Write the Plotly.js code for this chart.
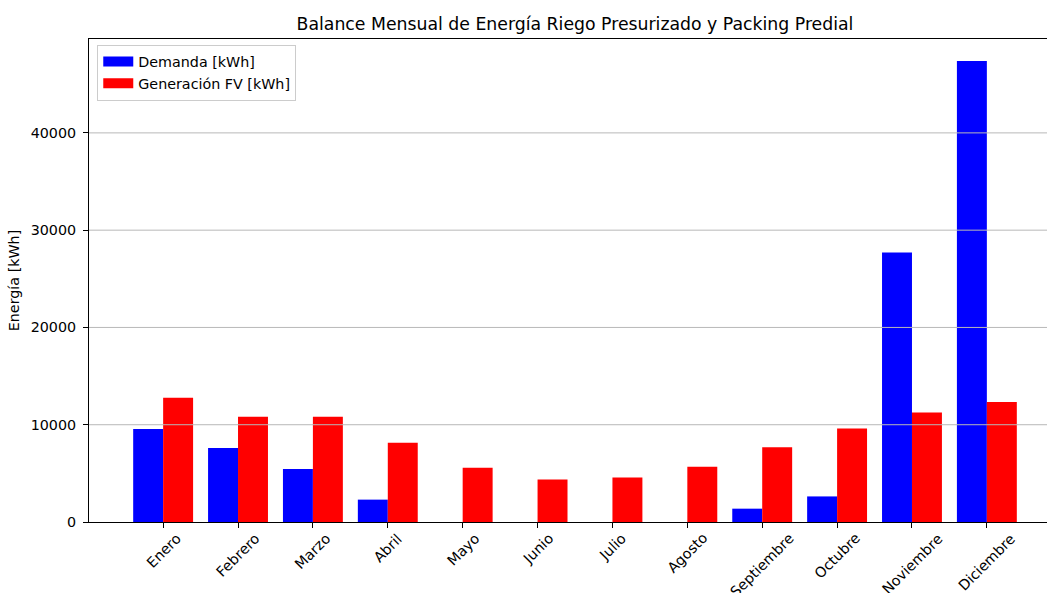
<!DOCTYPE html>
<html>
<head>
<meta charset="utf-8">
<script src="https://cdn.plot.ly/plotly-3.0.1.min.js"></script>
<style>
html, body { margin: 0; padding: 0; overflow: hidden; background: #fff; }
#chart { width: 1080px; height: 593px; }
</style>
</head>
<body>
<div id="chart"></div>
<script>
const meses = ["Enero", "Febrero", "Marzo", "Abril", "Mayo", "Junio", "Julio", "Agosto", "Septiembre", "Octubre", "Noviembre", "Diciembre"];
const demanda = [9550, 7600, 5450, 2300, 0, 0, 0, 0, 1370, 2630, 27700, 47400];
const generacion = [12780, 10820, 10820, 8140, 5570, 4360, 4570, 5670, 7690, 9620, 11260, 12330];
const yTicks = [0, 10000, 20000, 30000, 40000];
const serieNombres = ["Demanda [kWh]", "Generación FV [kWh]"];
const colores = ["#0000ff", "#ff0000"];

const FONT = "DejaVu Sans, sans-serif";
const FS = 14.3;

const traces = [
  { type: "bar", x: meses, y: demanda, name: serieNombres[0], marker: { color: colores[0], line: { width: 0 } }, showlegend: false, hoverinfo: "x+y" },
  { type: "bar", x: meses, y: generacion, name: serieNombres[1], marker: { color: colores[1], line: { width: 0 } }, showlegend: false, hoverinfo: "x+y" },
  // legend-only entries (wide rectangle patches like the reference)
  { type: "scatter", mode: "lines", x: [null], y: [null], name: serieNombres[0], line: { color: colores[0], width: 10 }, showlegend: true, hoverinfo: "skip" },
  { type: "scatter", mode: "lines", x: [null], y: [null], name: serieNombres[1], line: { color: colores[1], width: 10 }, showlegend: true, hoverinfo: "skip" }
];

const gridShapes = yTicks.filter(v => v > 0).map(v => ({
  type: "line", xref: "paper", x0: 0, x1: 1, yref: "y", y0: v, y1: v,
  line: { color: "#b8b8b8", width: 1 }, layer: "above"
}));

const labelAnnotations = meses.map(m => ({
  x: m, xref: "x", y: 0, yref: "y",
  text: m, showarrow: false, textangle: -45,
  xanchor: "center", yanchor: "top", yshift: -7, borderpad: 0,
  font: { family: FONT, size: FS, color: "#000" }
}));

const layout = {
  width: 1080, height: 593,
  margin: { l: 89, r: 19, t: 39, b: 71, pad: 0 },
  paper_bgcolor: "#fff", plot_bgcolor: "#fff",
  font: { family: FONT, size: FS, color: "#000" },
  title: {
    text: "Balance Mensual de Energía Riego Presurizado y Packing Predial",
    font: { family: FONT, size: 17.3, color: "#000" },
    x: 0.5, xref: "paper", xanchor: "center",
    y: 1 - 24 / 593, yref: "container", yanchor: "middle"
  },
  barmode: "group", bargap: 0.2, bargroupgap: 0,
  xaxis: {
    type: "category", range: [-0.99, 11.99], categoryorder: "array", categoryarray: meses,
    showgrid: false, zeroline: false,
    showline: true, linecolor: "#000", linewidth: 1, mirror: true,
    ticks: "outside", ticklen: 5, tickcolor: "#000", tickwidth: 1,
    showticklabels: false, fixedrange: true
  },
  yaxis: {
    range: [0, 49650], tickmode: "array", tickvals: yTicks, ticktext: yTicks.map(String),
    showgrid: false, zeroline: false,
    showline: true, linecolor: "#000", linewidth: 1, mirror: true,
    ticks: "outside", ticklen: 5, tickcolor: "#000", tickwidth: 1,
    ticklabelstandoff: 4,
    tickfont: { family: FONT, size: FS, color: "#000" },
    title: { text: "Energía [kWh]", font: { family: FONT, size: FS, color: "#000" }, standoff: 7 },
    automargin: false, fixedrange: true
  },
  legend: {
    x: 0.0085, xanchor: "left", y: 0.988, yanchor: "top",
    bgcolor: "rgba(255,255,255,0.8)", bordercolor: "#cccccc", borderwidth: 1,
    font: { family: FONT, size: FS, color: "#000" },
    tracegroupgap: 0
  },
  shapes: gridShapes,
  annotations: labelAnnotations
};

Plotly.newPlot("chart", traces, layout, { displayModeBar: false, staticPlot: true });
</script>
</body>
</html>
